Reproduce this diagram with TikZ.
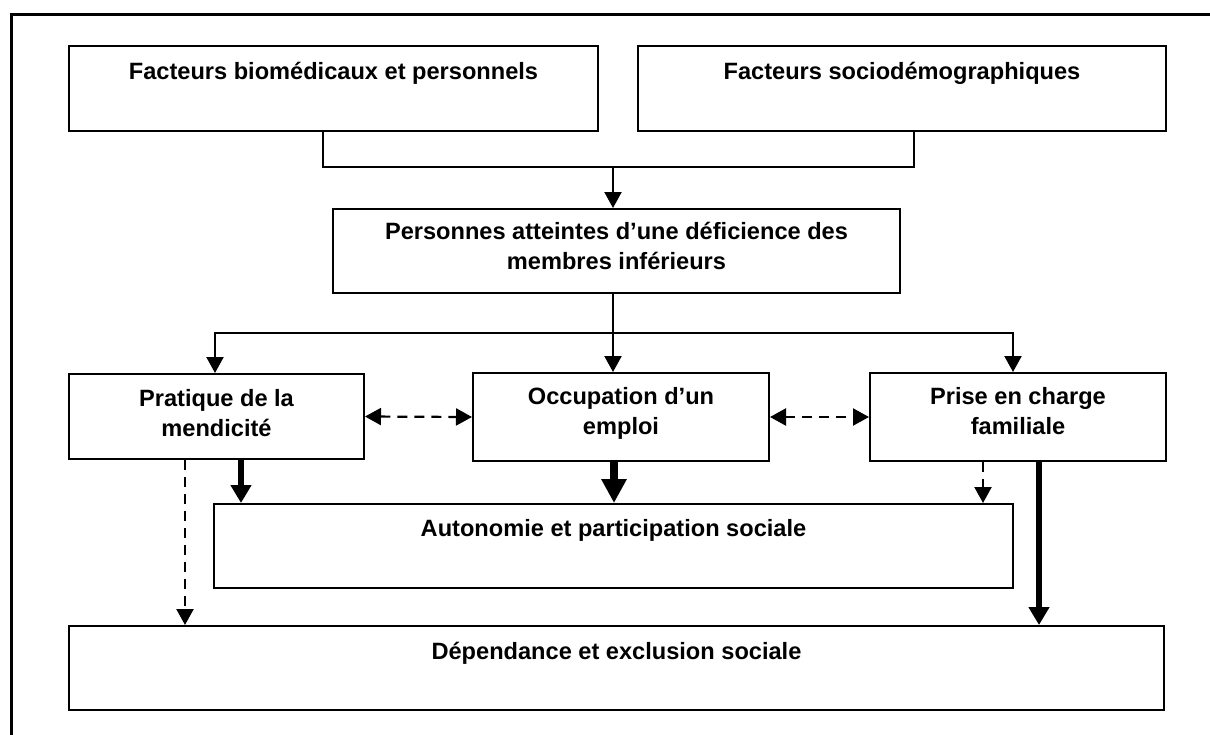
\documentclass[tikz,border=0pt]{standalone}
\usepackage{fontspec}
\setmainfont{Liberation Sans}
\usetikzlibrary{positioning,fit,arrows.meta}

\tikzset{
  box/.style={draw, line width=1pt, inner sep=0pt},
  txt/.style={font=\bfseries\fontsize{11.8}{15}\selectfont, align=center, inner sep=0pt},
  link/.style={line width=1.1pt},
  arr/.style={line width=1.1pt, -{Triangle[length=8pt,width=8.5pt]}},
  dasharr/.style={arr, dash pattern=on 5pt off 3.5pt},
  both/.style={line width=1.1pt, dash pattern=on 5pt off 3.5pt,
    {Triangle[length=8pt,width=8.5pt]}-{Triangle[length=8pt,width=8.5pt]}},
  heavy/.style={line width=3pt, -{Triangle[length=9pt,width=10pt]}},
  heavier/.style={line width=4pt, -{Triangle[length=12pt,width=12pt]}},
}

\begin{document}
\begin{tikzpicture}[x=0.5pt,y=-0.5pt]

\useasboundingbox (0,0) rectangle (1210,734);
\clip (0,0) rectangle (1210,734);

% Frame
\draw[line width=1.2pt] (11.5,14.5) rectangle (1240,760);

% Factors
\node[box, fit={(69,46) (598,131)}] (bio) {};
\node[txt, below=8.5pt of bio.north] (biotxt) {Facteurs biomédicaux et personnels};
\node[box, fit={(638,46) (1166,131)}] (socio) {};
\node[txt, below=8.5pt of socio.north] (sociotxt) {Facteurs sociodémographiques};

% Persons
\node[box, fit={(333,209) (900,293)}] (pers) {};
\node[txt, below=7pt of pers.north] (perstxt) {Personnes atteintes d’une déficience des\\membres inférieurs};

% Three situations
\node[box, fit={(69,374) (364,459)}] (mend) {};
\node[txt, below=8pt of mend.north] (mendtxt) {Pratique de la\\mendicité};
\node[box, fit={(473,373) (769,461)}] (emploi) {};
\node[txt, below=7.5pt of emploi.north] (emploitxt) {Occupation d’un\\emploi};
\node[box, fit={(870,373) (1166,461)}] (famille) {};
\node[txt, below=7.5pt of famille.north] (familletxt) {Prise en charge\\familiale};

% Outcomes
\node[box, fit={(214,504) (1013,588)}] (auto) {};
\node[txt, below=8pt of auto.north] (autotxt) {Autonomie et participation sociale};
\node[box, fit={(69,626) (1164,710)}] (dep) {};
\node[txt, below=8.5pt of dep.north] (deptxt) {Dépendance et exclusion sociale};

% Junctions
\coordinate (jtop) at (613,167);
\coordinate (jmid) at (613,333);
\coordinate (jl) at (215,333);
\coordinate (jr) at (1013,333);

\draw[link] ([xshift=-5.25pt]bio.south) |- (jtop) -| ([xshift=6pt]socio.south);
\draw[arr] (jtop) -- (jtop |- pers.north);

\draw[link] (jmid |- pers.south) -- (jmid);
\draw[arr] (jmid) -| (jl |- mend.north);
\draw[arr] (jmid) -- (jmid |- emploi.north);
\draw[arr] (jmid) -| (jr |- famille.north);

% Links between situations
\draw[both] (mend.east) -- (emploi.west);
\draw[both] (emploi.east) -- (famille.west);

% Towards outcomes
\coordinate (m1) at ([xshift=-15.75pt]mend.south);
\coordinate (m2) at ([xshift=12.25pt]mend.south);
\coordinate (e1) at ([xshift=-3.5pt]emploi.south);
\coordinate (f1) at ([xshift=-17.5pt]famille.south);
\coordinate (f2) at ([xshift=10.5pt]famille.south);

\draw[dasharr] (m1) -- (m1 |- dep.north);
\draw[heavy] (m2) -- (m2 |- auto.north);
\draw[heavier] (e1) -- (e1 |- auto.north);
\draw[dasharr] (f1) -- (f1 |- auto.north);
\draw[heavy] (f2) -- (f2 |- dep.north);

\end{tikzpicture}
\end{document}
